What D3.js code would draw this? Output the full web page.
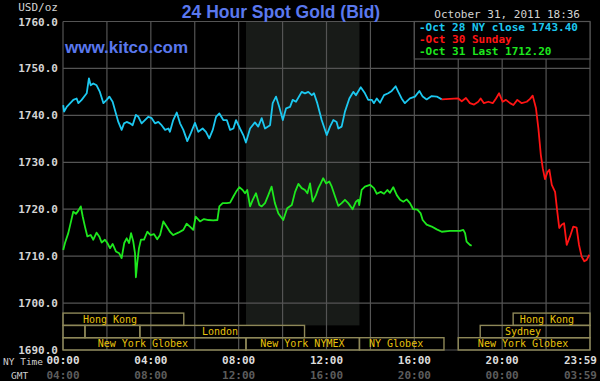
<!DOCTYPE html>
<html>
<head>
<meta charset="utf-8">
<script src="https://cdn.jsdelivr.net/npm/d3@7"></script>
<style>
  html, body { margin: 0; padding: 0; background: #000; }
  svg { display: block; }
</style>
</head>
<body>
<div id="chart"></div>
<script>
// price values, [hour in NY time, USD/oz]
const oct28 = [
  [0.01,1742.2],[0.05,1740.8],[0.17,1741.8],[0.47,1743.3],[0.62,1743.6],[0.70,1742.6],[0.85,1743.3],
  [1.08,1744.7],[1.18,1747.9],[1.26,1746.4],[1.38,1746.8],[1.53,1746.4],[1.68,1745.0],[1.84,1742.6],
  [1.99,1743.3],[2.11,1744.0],[2.26,1742.9],[2.41,1740.4],[2.52,1738.6],[2.67,1736.9],[2.78,1738.3],
  [2.90,1738.6],[3.05,1738.3],[3.17,1737.9],[3.32,1740.1],[3.43,1739.7],[3.58,1738.3],[3.73,1739.0],
  [3.88,1739.7],[4.04,1739.4],[4.19,1738.3],[4.34,1738.6],[4.49,1737.9],[4.65,1736.9],[4.80,1737.2],
  [4.87,1736.5],[5.02,1739.0],[5.18,1740.6],[5.33,1738.3],[5.48,1736.9],[5.66,1734.5],[5.82,1736.2],
  [6.01,1738.4],[6.16,1736.5],[6.36,1737.2],[6.51,1736.5],[6.66,1735.1],[6.82,1736.9],[6.97,1739.7],
  [7.12,1740.4],[7.30,1739.0],[7.46,1739.0],[7.61,1736.9],[7.76,1737.2],[7.88,1739.0],[8.06,1737.2],
  [8.21,1735.8],[8.33,1734.2],[8.52,1737.2],[8.74,1738.5],[8.89,1737.6],[9.05,1739.4],[9.20,1737.2],
  [9.43,1737.9],[9.55,1742.6],[9.70,1744.0],[9.85,1741.8],[10.01,1739.0],[10.16,1741.5],[10.34,1741.8],
  [10.46,1743.3],[10.61,1742.9],[10.87,1745.0],[11.02,1744.7],[11.17,1745.0],[11.33,1744.3],[11.43,1744.7],
  [11.58,1742.6],[11.78,1739.0],[12.01,1735.8],[12.16,1737.6],[12.31,1739.0],[12.46,1738.6],[12.54,1737.2],
  [12.69,1737.6],[12.84,1740.8],[13.04,1743.6],[13.22,1745.0],[13.34,1744.3],[13.56,1746.0],[13.75,1744.7],
  [13.90,1743.3],[14.06,1743.3],[14.16,1742.6],[14.29,1743.6],[14.44,1742.7],[14.62,1744.3],[14.81,1744.7],
  [14.97,1745.2],[15.15,1746.2],[15.27,1745.0],[15.42,1743.6],[15.57,1742.6],[15.80,1743.6],[16.03,1744.0],
  [16.23,1745.2],[16.38,1744.0],[16.56,1743.4],[16.79,1744.1],[17.02,1744.0],[17.25,1743.4]
];

const oct30 = [
  [17.25,1743.4],[18.00,1743.6],[18.16,1743.0],[18.35,1743.7],[18.53,1742.6],[18.72,1742.3],[18.91,1742.9],
  [19.02,1743.6],[19.17,1742.6],[19.37,1742.9],[19.57,1742.6],[19.72,1743.6],[19.86,1744.7],[20.02,1742.9],
  [20.17,1743.3],[20.36,1742.6],[20.51,1742.2],[20.69,1743.3],[20.89,1742.6],[21.12,1742.9],[21.27,1743.5],
  [21.39,1744.2],[21.54,1741.5],[21.65,1737.2],[21.76,1731.6],[21.85,1728.7],[21.95,1726.4],[22.06,1727.9],
  [22.15,1728.4],[22.26,1725.2],[22.41,1723.7],[22.51,1719.5],[22.60,1716.0],[22.71,1716.7],[22.82,1717.0],
  [22.94,1712.4],[23.09,1714.2],[23.24,1716.3],[23.39,1716.1],[23.50,1712.4],[23.62,1709.9],[23.74,1708.9],
  [23.85,1709.2],[23.97,1710.3]
];

const oct31 = [
  [0.01,1711.3],[0.09,1712.8],[0.24,1714.9],[0.40,1718.1],[0.47,1719.5],[0.59,1719.0],[0.70,1719.7],
  [0.81,1720.6],[0.90,1718.4],[1.00,1716.3],[1.11,1714.2],[1.26,1714.5],[1.38,1713.5],[1.53,1715.0],
  [1.65,1714.2],[1.76,1712.9],[1.91,1713.5],[2.02,1712.8],[2.14,1711.7],[2.26,1712.6],[2.41,1711.0],
  [2.56,1710.6],[2.67,1709.6],[2.79,1712.8],[2.90,1713.8],[3.01,1712.8],[3.10,1714.9],[3.20,1713.1],
  [3.28,1710.6],[3.32,1705.5],[3.38,1708.5],[3.46,1711.7],[3.55,1713.5],[3.69,1713.5],[3.84,1715.2],
  [3.99,1714.5],[4.14,1714.7],[4.29,1713.6],[4.42,1714.5],[4.57,1717.4],[4.72,1716.3],[4.87,1715.2],
  [5.02,1714.5],[5.25,1715.0],[5.48,1715.6],[5.63,1716.9],[5.78,1716.3],[5.93,1715.6],[6.04,1718.4],
  [6.24,1717.4],[6.42,1717.9],[6.62,1717.7],[6.84,1717.6],[7.03,1717.7],[7.12,1720.6],[7.27,1721.3],
  [7.46,1721.3],[7.61,1721.4],[7.76,1722.7],[7.88,1723.7],[8.03,1724.7],[8.18,1724.1],[8.29,1723.4],
  [8.39,1724.1],[8.52,1720.6],[8.64,1722.0],[8.79,1723.4],[8.94,1720.9],[9.05,1720.6],[9.20,1721.3],
  [9.35,1723.0],[9.50,1724.8],[9.65,1721.3],[9.81,1719.1],[10.03,1717.7],[10.21,1720.2],[10.42,1720.9],
  [10.57,1723.7],[10.72,1725.4],[10.87,1724.5],[11.02,1724.1],[11.13,1723.4],[11.25,1725.5],[11.37,1721.6],
  [11.52,1723.0],[11.63,1724.5],[11.74,1725.5],[11.85,1726.6],[11.98,1725.5],[12.13,1725.9],[12.24,1724.8],
  [12.39,1722.7],[12.54,1720.7],[12.69,1721.3],[12.84,1722.0],[12.99,1721.3],[13.19,1720.0],[13.34,1721.6],
  [13.45,1722.0],[13.49,1720.9],[13.60,1724.1],[13.75,1724.8],[13.98,1725.2],[14.16,1724.5],[14.29,1723.3],
  [14.47,1723.7],[14.62,1723.3],[14.77,1724.1],[14.89,1723.5],[15.04,1724.7],[15.20,1723.0],[15.35,1722.0],
  [15.50,1721.6],[15.65,1722.1],[15.80,1721.3],[15.95,1720.0],[16.14,1719.9],[16.29,1719.1],[16.38,1717.7],
  [16.56,1716.7],[16.79,1716.3],[17.02,1715.7],[17.25,1715.2],[17.62,1715.4],[18.08,1715.4],[18.23,1715.6],
  [18.31,1714.9],[18.38,1713.1],[18.53,1712.4],[18.61,1712.2]
];

const priceTicks = [1690, 1700, 1710, 1720, 1730, 1740, 1750, 1760];
const hourTicks = [0, 4, 8, 12, 16, 20, 24];
const nyLabels = ["00:00", "04:00", "08:00", "12:00", "16:00", "20:00", "23:59"];
const gmtLabels = ["04:00", "08:00", "12:00", "16:00", "20:00", "00:00", "03:59"];

const legendLabels = ["-Oct 28 NY close 1743.40", "-Oct 30 Sunday", "-Oct 31 Last 1712.20"];

// trading sessions: row, start hour, end hour, label, label centre hour
const sessions = [
  [0, 0, 5.5, "Hong Kong", 2.14],
  [0, 20.5, 24, "Hong Kong", 22.04],
  [1, 0, 1, "", 0.5],
  [1, 1, 3.5, "", 2.25],
  [1, 3.5, 11, "London", 7.15],
  [1, 19, 24, "Sydney", 20.95],
  [2, 0, 8.333, "New York Globex", 3.64],
  [2, 8.333, 13.5, "New York NYMEX", 10.9],
  [2, 13.5, 17.35, "NY Globex", 15.17],
  [2, 18, 24, "New York Globex", 20.95]
];
const pitHours = [8.333, 13.5];

const width = 600, height = 381;
const mono = "'DejaVu Sans Mono', monospace";
const gridColor = "#545454";
const colors = ["#1cc8f0", "#ff1414", "#1ee81e"];

const x = d3.scaleLinear().domain([0, 24]).range([63, 590]);
const y = d3.scaleLinear().domain([1690, 1760]).range([350, 21.5]);

const svg = d3.select("#chart").append("svg")
    .attr("width", width)
    .attr("height", height)
    .style("background", "#000");

const rowH = 12.3;
const rowTop = r => y(1690) - (3 - r) * rowH;

// NYMEX pit session shading
svg.append("rect")
    .attr("x", x(pitHours[0]))
    .attr("y", y(1760))
    .attr("width", x(pitHours[1]) - x(pitHours[0]))
    .attr("height", rowTop(1) - y(1760))
    .attr("fill", "#181b18");

// grid
svg.append("g")
  .selectAll("line")
  .data(d3.range(0, 25, 2))
  .join("line")
    .attr("x1", d => x(d)).attr("x2", d => x(d))
    .attr("y1", y(1760)).attr("y2", y(1690))
    .attr("stroke", gridColor)
    .attr("stroke-width", 1.2);

svg.append("g")
  .selectAll("line")
  .data(priceTicks)
  .join("line")
    .attr("x1", x(0)).attr("x2", x(24))
    .attr("y1", d => y(d)).attr("y2", d => y(d))
    .attr("stroke", gridColor)
    .attr("stroke-width", 1.2);

// y axis labels
const yAxis = svg.append("g")
    .attr("transform", `translate(${x(0) - 5},0)`)
    .call(d3.axisLeft(y).tickValues(priceTicks).tickFormat(d3.format(".1f")).tickSize(0).tickPadding(0));
yAxis.select(".domain").remove();
yAxis.selectAll("text")
    .attr("fill", "#d4d4d4")
    .style("font", `bold 11px ${mono}`);

svg.append("text")
    .attr("x", 58).attr("y", 11)
    .attr("text-anchor", "end")
    .attr("fill", "#d4d4d4")
    .style("font", `11px ${mono}`)
    .text("USD/oz");

// sessions
const sess = svg.append("g");
sess.selectAll("rect")
  .data(sessions)
  .join("rect")
    .attr("x", d => x(d[1]))
    .attr("y", d => rowTop(d[0]))
    .attr("width", d => x(d[2]) - x(d[1]))
    .attr("height", rowH)
    .attr("fill", "none")
    .attr("stroke", "#8e8858")
    .attr("stroke-width", 1.4);
sess.selectAll("text")
  .data(sessions)
  .join("text")
    .attr("x", d => x(d[4]))
    .attr("y", d => rowTop(d[0]) + rowH / 2 + 3.6)
    .attr("text-anchor", "middle")
    .attr("fill", "#e8c20c")
    .style("font", `10px ${mono}`)
    .text(d => d[3]);

// price lines
const line = d3.line().x(d => x(d[0])).y(d => y(d[1]));
svg.append("g")
  .selectAll("path")
  .data([oct28, oct31, oct30])
  .join("path")
    .attr("d", line)
    .attr("fill", "none")
    .attr("stroke", (d, i) => [colors[0], colors[2], colors[1]][i])
    .attr("stroke-width", 1.8)
    .attr("stroke-linejoin", "round");

// legend
svg.append("rect")
    .attr("x", x(16)).attr("y", y(1760))
    .attr("width", x(24) - x(16)).attr("height", 37.5)
    .attr("fill", "#000")
    .attr("stroke", gridColor)
    .attr("stroke-width", 1.2);
svg.append("g")
  .selectAll("text")
  .data(legendLabels)
  .join("text")
    .attr("x", 419)
    .attr("y", (d, i) => 31 + i * 12)
    .attr("fill", (d, i) => colors[i])
    .style("font", `bold 11px ${mono}`)
    .text(d => d);

// titles
svg.append("text")
    .attr("x", 281).attr("y", 18)
    .attr("text-anchor", "middle")
    .attr("fill", "#5a78ee")
    .style("font", "bold 17.5px 'Liberation Sans', Arial, sans-serif")
    .text("24 Hour Spot Gold (Bid)");

svg.append("text")
    .attr("x", 580).attr("y", 18)
    .attr("text-anchor", "end")
    .attr("fill", "#d4d4d4")
    .style("font", `11px ${mono}`)
    .text("October 31, 2011 18:36");

svg.append("text")
    .attr("x", 65).attr("y", 53)
    .attr("fill", "#5a78ee")
    .style("font", "bold 17px 'Liberation Sans', Arial, sans-serif")
    .text("www.kitco.com");

// time axis; the last label sits flush with the right edge
const lastTick = hourTicks.length - 1;
const tickX = (d, i) => i === lastTick ? width - 3 : x(d);
const tickAnchor = (d, i) => i === lastTick ? "end" : "middle";

svg.append("g")
  .selectAll("text")
  .data(hourTicks)
  .join("text")
    .attr("x", tickX)
    .attr("y", 364)
    .attr("text-anchor", tickAnchor)
    .attr("fill", "#dcdcdc")
    .style("font", `bold 11px ${mono}`)
    .text((d, i) => nyLabels[i]);

svg.append("g")
  .selectAll("text")
  .data(hourTicks)
  .join("text")
    .attr("x", tickX)
    .attr("y", 379)
    .attr("text-anchor", tickAnchor)
    .attr("fill", "#5c5c5c")
    .style("font", `bold 11px ${mono}`)
    .text((d, i) => gmtLabels[i]);

svg.append("text")
    .attr("x", 3).attr("y", 365)
    .attr("fill", "#cfcfcf")
    .style("font", `9.5px ${mono}`)
    .text("NY Time");
svg.append("text")
    .attr("x", 11).attr("y", 379)
    .attr("fill", "#cfcfcf")
    .style("font", `9.5px ${mono}`)
    .text("GMT");
</script>
</body>
</html>
